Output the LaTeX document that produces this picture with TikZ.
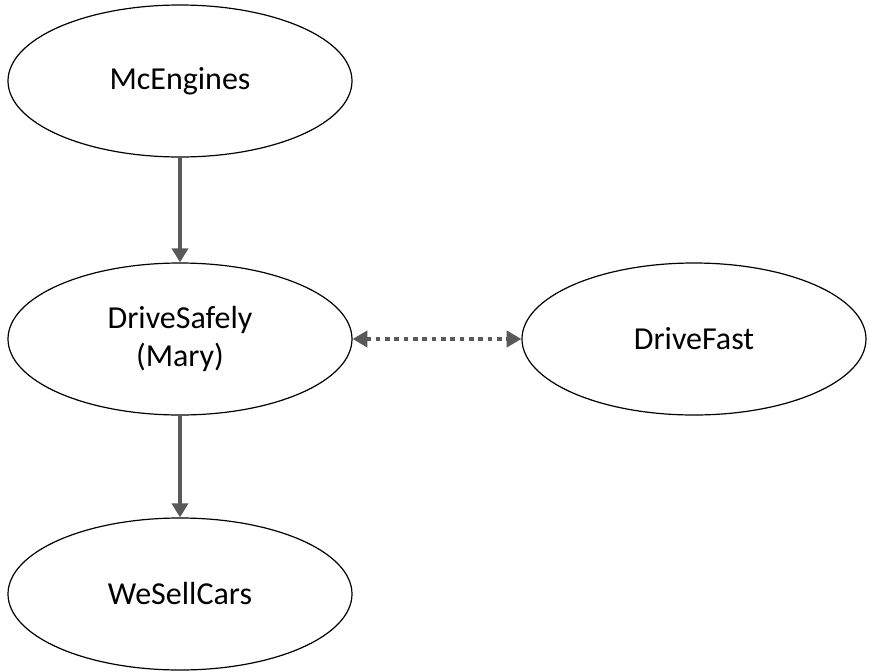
\documentclass[tikz,border=0pt]{standalone}
\usepackage{fontspec}
\setmainfont{Carlito}
\usetikzlibrary{shapes.geometric,arrows.meta}
\definecolor{linkgray}{HTML}{595959}
\begin{document}
\begin{tikzpicture}[x=0.75pt,y=-0.75pt]
    \tikzstyle{every node}+=[inner sep=0pt]
    \tikzstyle{party}=[draw=black, line width=0.9pt, ellipse, minimum width=258pt, minimum height=114pt, align=center, font=\fontsize{24}{29}\selectfont]
    \tikzstyle{link}=[draw=linkgray, line width=3.5pt, -{Triangle[width=12pt,length=10.5pt]}]
    \tikzstyle{rival}=[draw=linkgray, line width=3.5pt, dash pattern=on 3.5pt off 3.5pt, {Triangle[width=12pt,length=11pt]}-{Triangle[width=12pt,length=11pt]}]
    \useasboundingbox (0,0) rectangle (869,672);
    \node [party] (mcengines) at (180,81) {McEngines};
    \node [party] (drivesafely) at (180,339) {DriveSafely\\(Mary)};
    \node [party] (drivefast) at (694,339) {DriveFast};
    \node [party] (wesellcars) at (180,594) {WeSellCars};
    \draw [link] (mcengines) -- (drivesafely);
    \draw [link] (drivesafely) -- (wesellcars);
    \draw [rival] (drivesafely) -- (drivefast);
\end{tikzpicture}
\end{document}
